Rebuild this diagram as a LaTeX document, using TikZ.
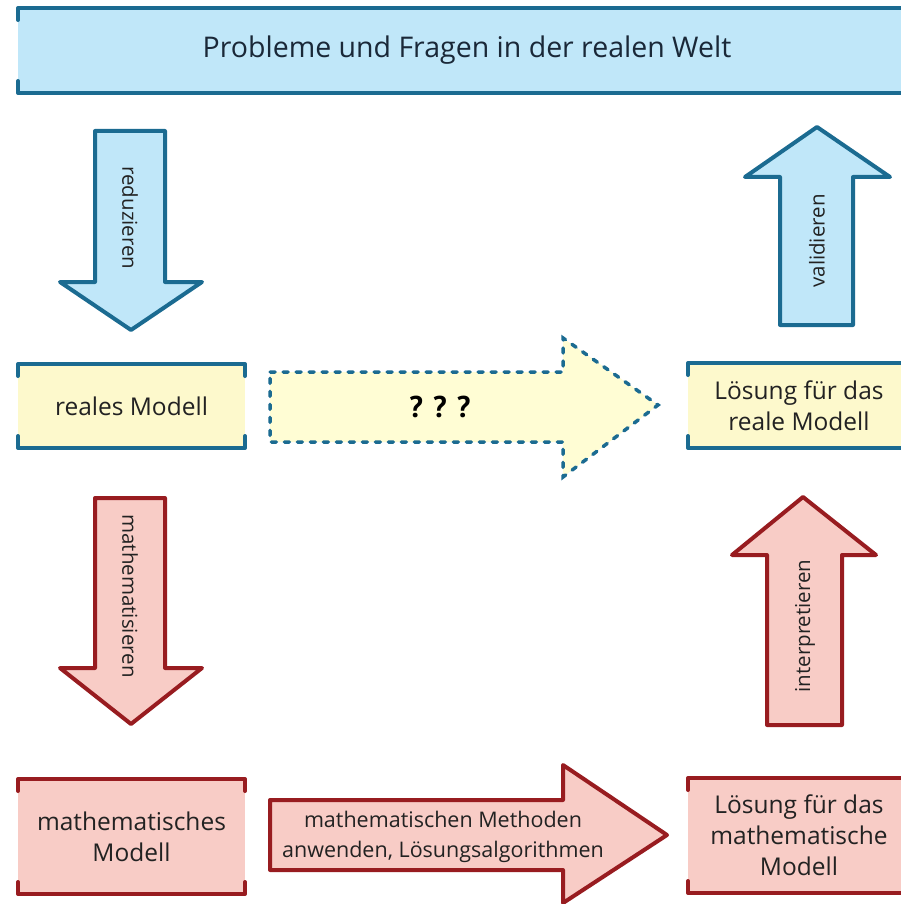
\documentclass[tikz,border=0pt]{standalone}
\usepackage{fontspec}
\setmainfont{Open Sans}
\newfontfamily\qfont{PT Sans}
\definecolor{bluefill}{HTML}{C0E7F9}
\definecolor{blueline}{HTML}{1B6B91}
\definecolor{yelfill}{HTML}{FDF9CC}
\definecolor{yelfill2}{HTML}{FFFDD4}
\definecolor{redfill}{HTML}{F8CCC6}
\definecolor{redline}{HTML}{981C20}
\definecolor{txt}{HTML}{222222}
\definecolor{navytxt}{HTML}{1A2838}
\tikzset{
  boxbase/.style={rectangle, inner sep=0pt, outer sep=0pt, align=center, text=txt},
  bluebox/.style={boxbase, fill=bluefill},
  yelbox/.style={boxbase, fill=yelfill},
  redbox/.style={boxbase, fill=redfill},
  bracketblue/.style={draw=blueline, line width=4pt, line join=round, line cap=round},
  bracketred/.style={draw=redline, line width=4pt, line join=round, line cap=round},
  bluearrow/.style={draw=blueline, fill=bluefill, line width=4pt, line join=round},
  redarrow/.style={draw=redline, fill=redfill, line width=4pt, line join=round},
  dasharrow/.style={draw=blueline, fill=yelfill2, line width=3.5pt, line cap=round, dash pattern=on 5pt off 8pt},
  lbl/.style={text=txt, inner sep=0pt, align=center},
  rotlbl/.style={lbl, font=\fontsize{20.5}{24}\selectfont},
  boxtxt/.style={font=\fontsize{24.5}{31}\selectfont},
}
\begin{document}
\begin{tikzpicture}[x=1pt,y=-1pt]
\useasboundingbox (0,0) rectangle (900,904);
\fill[white] (0,0) rectangle (900,904);

% --- boxes ---
\node[bluebox, minimum width=886pt, minimum height=85pt, text=navytxt, font=\fontsize{28.5}{34}\selectfont] (world) at (461,50.5)
  {\hspace*{12pt}Probleme und Fragen in der realen Welt};
\node[yelbox, boxtxt, minimum width=227pt, minimum height=84pt] (realm) at (131.5,406)
  {reales Modell};
\node[yelbox, boxtxt, minimum width=216pt, minimum height=85pt] (realsol) at (796,405.5)
  {\hspace*{6pt}Lösung für das\\\hspace*{6pt}reale Modell};
\node[redbox, boxtxt, minimum width=227pt, minimum height=115pt] (mathm) at (131.5,836.5)
  {mathematisches\\Modell};
\node[redbox, boxtxt, minimum width=216pt, minimum height=115pt] (mathsol) at (796,835.5)
  {\hspace*{6pt}Lösung für das\\\hspace*{6pt}mathematische\\\hspace*{6pt}Modell};

% --- brackets ---
\foreach \n/\s in {world/bracketblue, realm/bracketblue, realsol/bracketblue, mathm/bracketred, mathsol/bracketred}{
  \draw[\s] ([yshift=-12pt]\n.north west) -- (\n.north west) -- (\n.north east) -- ([yshift=-12pt]\n.north east);
  \draw[\s] ([yshift=12pt]\n.south west) -- (\n.south west) -- (\n.south east) -- ([yshift=12pt]\n.south east);
}

% --- reduzieren (down, blue) ---
\draw[bluearrow] (95,131) -- (165,131) -- (165,282) -- (202,282) -- (131,330) -- (60,282) -- (95,282) -- cycle;
\node[rotlbl, rotate=270] (red) at (130,218) {reduzieren};

% --- validieren (up, blue) ---
\draw[bluearrow] (780,325) -- (853,325) -- (853,177) -- (890,177) -- (817,127) -- (745,177) -- (780,177) -- cycle;
\node[rotlbl, rotate=90] (val) at (817,241) {validieren};

% --- ??? (dashed, right) ---
\draw[dasharrow] (270,372) -- (563,372) -- (563,338) -- (658,405) -- (563,477) -- (563,442) -- (270,442) -- cycle;
\node[lbl, text=black, font=\qfont\fontsize{30}{32}\selectfont\bfseries] (qqq) at (440,407) {? ? ?};

% --- mathematisieren (down, red) ---
\draw[redarrow] (95,498) -- (165,498) -- (165,668) -- (202,668) -- (131,724) -- (60,668) -- (95,668) -- cycle;
\node[rotlbl, rotate=270] (mat) at (130,596) {mathematisieren};

% --- interpretieren (up, red) ---
\draw[redarrow] (767,725) -- (842,725) -- (842,555) -- (876,555) -- (803,497) -- (732,555) -- (767,555) -- cycle;
\node[rotlbl, rotate=90] (int) at (805,626) {interpretieren};

% --- mathematische Methoden (right, red) ---
\draw[redarrow] (270,800) -- (563,800) -- (563,765) -- (667,835) -- (563,903) -- (563,870) -- (270,870) -- cycle;
\node[lbl, font=\fontsize{21.5}{30}\selectfont] (meth) at (443,837) {mathematischen Methoden\\anwenden, Lösungsalgorithmen};
\end{tikzpicture}
\end{document}
